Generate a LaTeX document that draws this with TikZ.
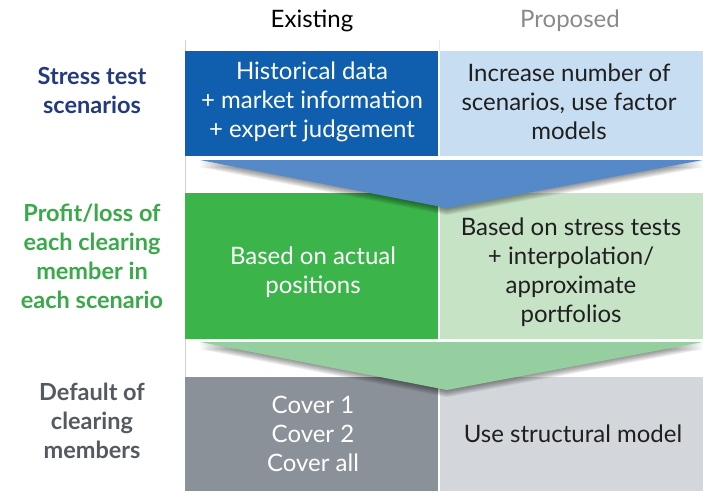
\documentclass[tikz,border=0pt]{standalone}
\usepackage{fontspec}
\setmainfont{Lato}
\definecolor{exblue}{HTML}{0F5FAE}
\definecolor{prblue}{HTML}{C7DDF1}
\definecolor{chevblue}{HTML}{5589C7}
\definecolor{exgreen}{HTML}{3BB44A}
\definecolor{prgreen}{HTML}{C6E3C6}
\definecolor{chevgreen}{HTML}{95CF9F}
\definecolor{exgray}{HTML}{8B9198}
\definecolor{prgray}{HTML}{D3D6DA}
\definecolor{lblblue}{HTML}{233A80}
\definecolor{lblgreen}{HTML}{39A94A}
\definecolor{lblgray}{HTML}{555A61}
\definecolor{hdrgray}{HTML}{8A8A8A}
\tikzset{
  celltext/.style={align=center, inner sep=0pt, font=\fontsize{24}{29}\selectfont},
  rowlabel/.style={align=center, inner sep=0pt, font=\fontsize{23.5}{29}\selectfont\bfseries},
  header/.style={inner sep=0pt, font=\fontsize{24}{29}\selectfont},
}
\newcommand{\chevron}[3]{% top y, tip y, colour
  \foreach \k in {1,...,8}{
    \fill[black, opacity=0.06] (200,#1+\k*0.9) -- (703,#1+\k*0.9) -- (447,#2+\k*0.9) -- cycle;
  }
  \fill[#3] (200,#1) -- (703,#1) -- (447,#2) -- cycle;
}
\begin{document}
\begin{tikzpicture}[x=1pt,y=-1pt]
\useasboundingbox (0,0) rectangle (703,491);
\fill[white] (0,0) rectangle (703,491);
% column guides
\draw[black!18, line width=0.6pt] (185.5,40) -- (185.5,491);
\draw[black!8, line width=0.6pt] (439,40) -- (439,51);
% headers
\node[header] (hex) at (312,21) {Existing};
\node[header, text=hdrgray] (hpr) at (570,21) {Proposed};
% row 1: stress test scenarios
\fill[exblue] (185,51) rectangle (438,156);
\fill[prblue] (440,51) rectangle (703,156);
% row 2: profit/loss
\fill[exgreen] (185,193) rectangle (438,339);
\fill[prgreen] (440,193) rectangle (703,339);
% row 3: default
\fill[exgray] (185,377) rectangle (438,491);
\fill[prgray] (440,377) rectangle (703,491);
% chevrons between the rows
\chevron{160}{208}{chevblue}
\chevron{342}{390}{chevgreen}
% row labels
\node[rowlabel, text=lblblue] (l1) at (92,90) {Stress test\\scenarios};
\node[rowlabel, text=lblgreen] (l2) at (92,256) {Profit/loss of\\each clearing\\member in\\each scenario};
\node[rowlabel, text=lblgray] (l3) at (92,421) {Default of\\clearing\\members};
% cell texts
\node[celltext, text=white] (e1) at (312,102) {Historical data\\+ market information\\+ expert judgement};
\node[celltext, text=black!88] (p1) at (569,102) {Increase number of\\scenarios, use factor\\models};
\node[celltext, text=white] (e2) at (313,272) {Based on actual\\positions};
\node[celltext, text=black!88] (p2) at (571,272) {Based on stress tests\\+ interpolation/\\approximate\\portfolios};
\node[celltext, text=white] (e3) at (313,434) {Cover 1\\Cover 2\\Cover all};
\node[celltext, text=black!88] (p3) at (573,434) {Use structural model};
\end{tikzpicture}
\end{document}
